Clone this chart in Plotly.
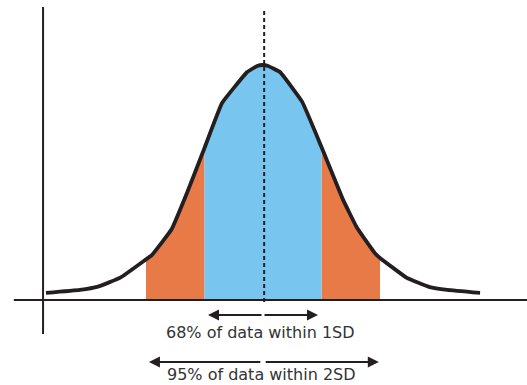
import plotly.graph_objects as go

# Curve (x in SD units from the mean, y relative height)
curve_x = [-3.71, -3.13, -2.82, -2.44, -2.0, -1.90, -1.56, -1.30, -1.0, -0.70, -0.27, -0.10, 0.0,
           0.085, 0.29, 0.67, 1.0, 1.37, 1.61, 1.91, 2.0, 2.46, 2.85, 3.15, 3.71]
curve_y = [0.030, 0.043, 0.057, 0.095, 0.173, 0.191, 0.302, 0.455, 0.647, 0.838, 0.970, 0.996, 1.0,
           0.996, 0.970, 0.843, 0.651, 0.426, 0.306, 0.200, 0.179, 0.094, 0.055, 0.043, 0.030]

sd1_label = "68% of data within 1SD"
sd2_label = "95% of data within 2SD"

BLUE = "#78C5EF"
ORANGE = "#E77A47"
INK = "#231F20"

def segment(lo, hi):
    xs, ys = [], []
    for x, y in zip(curve_x, curve_y):
        if lo - 1e-9 <= x <= hi + 1e-9:
            xs.append(x)
            ys.append(y)
    return xs, ys

fig = go.Figure()
for lo, hi, col in [(-2, -1, ORANGE), (1, 2, ORANGE), (-1, 1, BLUE)]:
    xs, ys = segment(lo, hi)
    fig.add_trace(go.Scatter(x=xs, y=ys, mode="lines", line=dict(width=0, color=col),
                             fill="tozeroy", fillcolor=col, hoverinfo="skip"))

# axes lines
fig.add_shape(type="line", x0=-4.26, x1=4.6, y0=0, y1=0, line=dict(color=INK, width=2))
fig.add_shape(type="line", x0=-3.76, x1=-3.76, y0=-0.145, y1=1.247, line=dict(color=INK, width=2))
# mean dashed line
fig.add_shape(type="line", x0=0.02, x1=0.02, y0=-0.009, y1=1.238,
              line=dict(color=INK, width=2, dash="4px,3px"))

fig.add_trace(go.Scatter(x=curve_x, y=curve_y, mode="lines",
                         line=dict(color=INK, width=3.8, shape="spline", smoothing=0.3),
                         hoverinfo="skip"))

# arrows
def arrow(x_head, x_tail, y):
    fig.add_annotation(x=x_head, y=y, ax=x_tail, ay=y, xref="x", yref="y", axref="x", ayref="y",
                       text="", showarrow=True, arrowhead=2, arrowsize=1.1, arrowwidth=2,
                       arrowcolor=INK)

arrow(-0.94, 0.0, -0.064)
arrow(0.94, 0.0, -0.064)
arrow(-1.95, -0.02, -0.264)
arrow(1.98, 0.02, -0.264)

fig.add_annotation(x=-0.05, y=-0.138, text=sd1_label, showarrow=False,
                   font=dict(family="DejaVu Sans", size=16, color="#333333"))
fig.add_annotation(x=-0.02, y=-0.319, text=sd2_label, showarrow=False,
                   font=dict(family="DejaVu Sans", size=16, color="#333333"))

fig.update_layout(
    width=527, height=385, margin=dict(l=0, r=0, t=0, b=0),
    paper_bgcolor="white", plot_bgcolor="white", showlegend=False,
    xaxis=dict(range=[-4.496, 4.513], visible=False, fixedrange=True),
    yaxis=dict(range=[-0.3617, 1.2766], visible=False, fixedrange=True),
)
fig.write_html("out.html", post_script="document.body.style.margin='0';",
               config={"displayModeBar": False})
